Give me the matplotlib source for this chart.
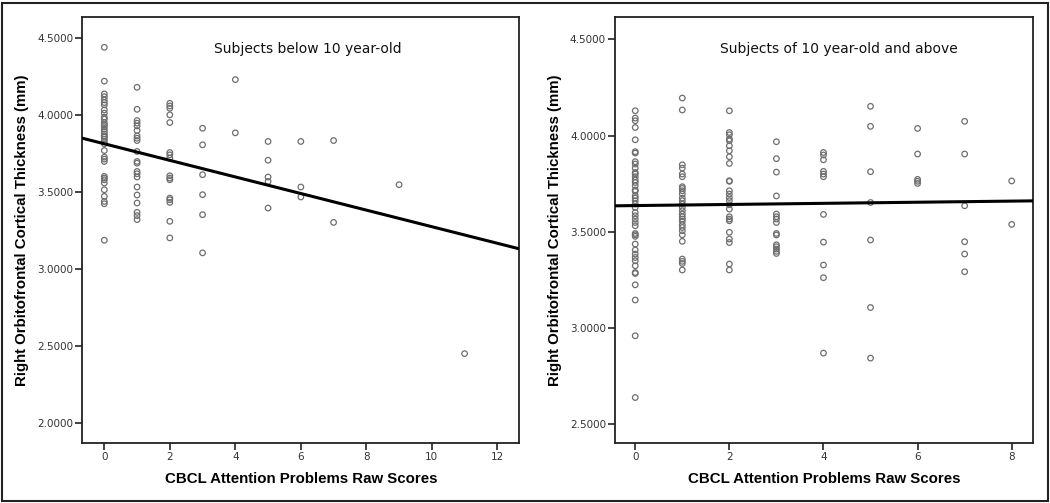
import matplotlib
matplotlib.use("Agg")
import matplotlib.pyplot as plt
import numpy as np
from matplotlib.patches import Rectangle

# ---------------- data: subjects below 10 year-old ----------------
young_x0 = [4.44, 4.22, 4.137, 4.119, 4.098, 4.081, 4.066, 4.033, 4.012, 3.986, 3.973,
            3.951, 3.936, 3.925, 3.908, 3.892, 3.877, 3.864, 3.856, 3.843, 3.828, 3.813,
            3.769, 3.726, 3.713, 3.698, 3.601, 3.590, 3.579, 3.558, 3.514, 3.471, 3.438,
            3.423, 3.186]
young_x1 = [4.180, 4.037, 3.964, 3.947, 3.929, 3.899, 3.864, 3.849, 3.834, 3.763, 3.698,
            3.687, 3.633, 3.618, 3.597, 3.532, 3.480, 3.428, 3.367, 3.346, 3.320]
young_x2 = [4.076, 4.059, 4.044, 4.001, 3.951, 3.756, 3.741, 3.720, 3.605, 3.590, 3.579,
            3.460, 3.449, 3.432, 3.309, 3.201]
young_x3 = [3.914, 3.806, 3.612, 3.482, 3.352, 3.104]
young_x4 = [4.230, 3.884]
young_x5 = [3.828, 3.706, 3.597, 3.568, 3.395]
young_x6 = [3.828, 3.532, 3.467]
young_x7 = [3.834, 3.302]
young_x9 = [3.547]
young_x11 = [2.449]
young_groups = {0: young_x0, 1: young_x1, 2: young_x2, 3: young_x3, 4: young_x4,
                5: young_x5, 6: young_x6, 7: young_x7, 9: young_x9, 11: young_x11}
young_fit = (3.813, -0.0539)   # intercept, slope

# ---------------- data: subjects of 10 year-old and above ----------------
old_x0 = [4.129, 4.091, 4.077, 4.042, 3.978, 3.916, 3.909, 3.864, 3.852, 3.831, 3.808,
          3.800, 3.786, 3.769, 3.756, 3.739, 3.717, 3.710, 3.687, 3.675, 3.661, 3.644,
          3.626, 3.600, 3.583, 3.566, 3.548, 3.531, 3.491, 3.484, 3.476, 3.436, 3.405,
          3.384, 3.366, 3.349, 3.323, 3.288, 3.283, 3.224, 3.145, 2.959, 2.638]
old_x1 = [4.195, 4.133, 3.848, 3.831, 3.800, 3.786, 3.734, 3.725, 3.713, 3.696, 3.675,
          3.661, 3.644, 3.626, 3.609, 3.592, 3.578, 3.566, 3.554, 3.536, 3.522, 3.505,
          3.484, 3.450, 3.358, 3.346, 3.335, 3.301]
old_x2 = [4.129, 4.016, 4.004, 3.982, 3.973, 3.947, 3.921, 3.890, 3.855, 3.765, 3.762,
          3.713, 3.696, 3.678, 3.661, 3.640, 3.618, 3.578, 3.566, 3.557, 3.497, 3.462,
          3.444, 3.332, 3.301]
old_x3 = [3.968, 3.880, 3.810, 3.686, 3.592, 3.578, 3.566, 3.548, 3.491, 3.483, 3.432,
          3.422, 3.410, 3.398, 3.387]
old_x4 = [3.912, 3.899, 3.874, 3.814, 3.800, 3.786, 3.590, 3.446, 3.327, 3.261, 2.869]
old_x5 = [4.152, 4.048, 3.812, 3.652, 3.457, 3.106, 2.843]
old_x6 = [4.037, 3.904, 3.772, 3.762, 3.751]
old_x7 = [4.074, 3.904, 3.635, 3.448, 3.384, 3.292]
old_x8 = [3.764, 3.538]
old_groups = {0: old_x0, 1: old_x1, 2: old_x2, 3: old_x3, 4: old_x4,
              5: old_x5, 6: old_x6, 7: old_x7, 8: old_x8}
old_fit = (3.636, 0.0029)

titles = ["Subjects below 10 year-old", "Subjects of 10 year-old and above"]
xlabel = "CBCL Attention Problems Raw Scores"
ylabel = "Right Orbitofrontal Cortical Thickness (mm)"
young_xticks = [0, 2, 4, 6, 8, 10, 12]
young_yticks = [2.0, 2.5, 3.0, 3.5, 4.0, 4.5]
old_xticks = [0, 2, 4, 6, 8]
old_yticks = [2.5, 3.0, 3.5, 4.0, 4.5]

# ---------------- figure ----------------
W, H = 1050, 503
fig = plt.figure(figsize=(W / 100, H / 100), dpi=100)
plt.rcParams['font.family'] = ['DejaVu Sans']
label_font = ['Liberation Sans', 'DejaVu Sans']

def px_axes(x0, y0, x1, y1):
    return fig.add_axes([x0 / W, 1 - y1 / H, (x1 - x0) / W, (y1 - y0) / H])

ax1 = px_axes(82.3, 16.7, 519.3, 443.3)
ax2 = px_axes(615, 16.7, 1032.7, 443.3)

def draw(ax, groups, fit, xlim, ylim, xticks, yticks, title, tx):
    for xv, ys in groups.items():
        ax.scatter([xv] * len(ys), ys, s=16, facecolors='none',
                   edgecolors='#6e6e6e', linewidths=0.9, zorder=2)
    xs = np.array(xlim)
    ax.plot(xs, fit[0] + fit[1] * xs, color='black', lw=2.2, zorder=3)
    ax.set_xlim(*xlim)
    ax.set_ylim(*ylim)
    ax.set_xticks(xticks)
    ax.set_xticklabels([str(t) for t in xticks])
    ax.set_yticks(yticks)
    ax.set_yticklabels([f"{t:.4f}" for t in yticks])
    ax.tick_params(direction='out', length=5, width=1.2, labelsize=7.5,
                   labelcolor='#333333', color='#222222', pad=1.5)
    for sp in ax.spines.values():
        sp.set_linewidth(1.3)
        sp.set_color('#222222')
    ax.set_xlabel(xlabel, fontsize=10.8, fontweight='bold', labelpad=7,
                  family=label_font)
    ax.set_ylabel(ylabel, fontsize=10.8, fontweight='bold', labelpad=6,
                  family=label_font)
    ax.text(tx, 0.925, title, transform=ax.transAxes, ha='center', va='center',
            fontsize=10, color='#111111')

draw(ax1, young_groups, young_fit, (-0.672, 12.67), (1.866, 4.639),
     young_xticks, young_yticks, titles[0], 0.515)
draw(ax2, old_groups, old_fit, (-0.43, 8.446), (2.40, 4.618),
     old_xticks, old_yticks, titles[1], 0.535)

fig.patches.append(Rectangle((1.5 / W, 2.5 / H), (W - 4) / W, (H - 5) / H,
                             transform=fig.transFigure, fill=False,
                             edgecolor='#222222', linewidth=1.5))

fig.savefig("out.png", dpi=100, facecolor='white')
